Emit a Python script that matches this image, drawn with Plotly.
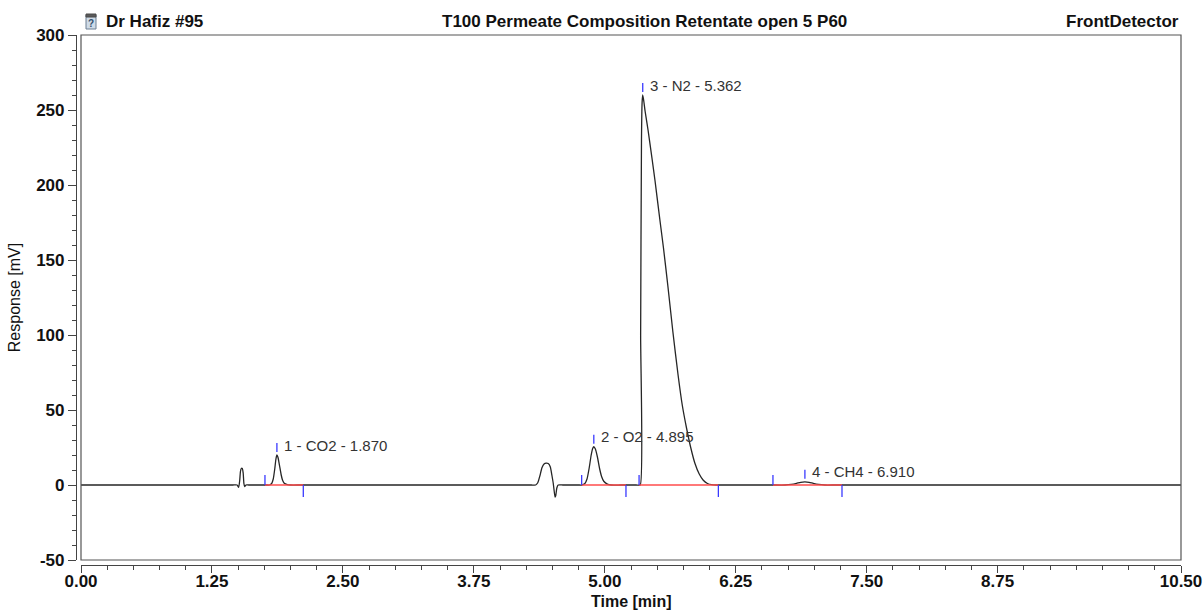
import plotly.graph_objects as go

# ---- chromatogram trace: time [min] and detector response [mV] ----
baseline_t = [0.00, 0.80, 1.30, 1.45, 1.49]
spike_t = [1.505, 1.515, 1.522, 1.530, 1.540, 1.548, 1.555, 1.562, 1.575, 1.60, 1.70, 1.77]
spike_v = [-1.5, 3.0, 9.0, 11.0, 11.0, 8.0, 1.0, -1.0, 0.0, 0.0, 0.0, 0.0]

co2_t = [1.80, 1.82, 1.835, 1.85, 1.86, 1.87, 1.88, 1.895, 1.91, 1.925, 1.94, 1.97, 2.00,
         2.10, 3.00, 4.20, 4.30]
co2_v = [0.0, 1.0, 4.0, 11.0, 17.0, 20.0, 18.5, 13.0, 7.0, 3.0, 1.2, 0.3, 0.0,
         0.0, 0.0, 0.0, 0.0]

valve_t = [4.34, 4.36, 4.38, 4.40, 4.42, 4.44, 4.46, 4.48, 4.495, 4.508, 4.515, 4.525,
           4.532, 4.542, 4.555, 4.60, 4.70, 4.75]
valve_v = [0.0, 1.5, 6.0, 11.5, 14.0, 14.6, 14.3, 12.0, 6.5, 1.0, -3.0, -8.0,
           -7.0, -2.0, 0.0, 0.0, 0.0, 0.0]

o2_t = [4.78, 4.81, 4.83, 4.85, 4.87, 4.885, 4.895, 4.91, 4.93, 4.95, 4.97, 4.99, 5.02,
        5.06, 5.15, 5.25]
o2_v = [0.0, 1.0, 4.0, 11.0, 20.0, 24.5, 25.5, 24.0, 18.5, 11.0, 5.5, 2.5, 0.8,
        0.0, 0.0, 0.0]

n2_t = [5.30, 5.338, 5.342, 5.350, 5.356, 5.362, 5.372, 5.385, 5.412, 5.45, 5.479, 5.527,
        5.56, 5.603, 5.65, 5.70, 5.74, 5.78, 5.82, 5.86, 5.90, 5.94, 5.98, 6.02, 6.06,
        6.10, 6.30, 6.60]
n2_v = [0.0, 0.0, 100.0, 230.0, 255.0, 260.0, 256.0, 249.0, 237.0, 218.0, 203.0, 176.0,
        158.0, 132.0, 102.0, 73.0, 53.0, 38.0, 25.0, 14.5, 7.5, 3.2, 1.0, 0.2, 0.0,
        0.0, 0.0, 0.0]

ch4_t = [6.72, 6.78, 6.83, 6.87, 6.91, 6.95, 6.99, 7.04, 7.10, 7.20, 7.50, 8.50, 9.50]
ch4_v = [0.0, 0.4, 1.1, 1.8, 2.1, 1.8, 1.1, 0.4, 0.0, 0.0, 0.0, 0.0, 0.0]

end_t = [10.50]

# ---- integration results ----
peak_names = ["1 - CO2 - 1.870", "2 - O2 - 4.895", "3 - N2 - 5.362", "4 - CH4 - 6.910"]
peak_rt = [1.870, 4.895, 5.362, 6.910]
peak_height = [20.0, 25.5, 260.0, 2.1]
peak_start = [1.756, 4.779, 5.327, 6.605]
peak_end = [2.122, 5.202, 6.084, 7.264]

# ---- axis ticks ----
x_major = [0.00, 1.25, 2.50, 3.75, 5.00, 6.25, 7.50, 8.75, 10.50]
x_major_text = ["0.00", "1.25", "2.50", "3.75", "5.00", "6.25", "7.50", "8.75", "10.50"]
y_major = [-50, 0, 50, 100, 150, 200, 250, 300]

time = baseline_t + spike_t + co2_t + valve_t + o2_t + n2_t + ch4_t + end_t
resp = [0.0] * len(baseline_t) + spike_v + co2_v + valve_v + o2_v + n2_v + ch4_v + [0.0]

# page geometry (pixels)
W, H = 1204, 610
L, R, T, B = 76, 23, 35, 45
PW, PH = W - L - R, H - T - B


def px(x):
    return (x - L) / PW


def py(y):
    return (H - B - y) / PH


fig = go.Figure()

fig.add_trace(go.Scatter(
    x=time, y=resp, mode="lines",
    line=dict(color="#262626", width=1.3, shape="spline", smoothing=0.5),
    hoverinfo="skip", showlegend=False))

# integration baselines (red)
bx, by = [], []
for s, e in zip(peak_start, peak_end):
    bx += [s, e, None]
    by += [0, 0, None]
fig.add_trace(go.Scatter(x=bx, y=by, mode="lines",
                         line=dict(color="#ff4d4d", width=1.3),
                         hoverinfo="skip", showlegend=False))

# peak start / end / apex delimiters (blue)
START_LEN, END_LEN, APEX_GAP, APEX_LEN = 6.7, 8.0, 2.0, 6.0
mx, my = [], []
for s, e, rt, h in zip(peak_start, peak_end, peak_rt, peak_height):
    mx += [s, s, None, e, e, None, rt, rt, None]
    my += [0, START_LEN, None, 0, -END_LEN, None,
           h + APEX_GAP, h + APEX_GAP + APEX_LEN, None]
fig.add_trace(go.Scatter(x=mx, y=my, mode="lines",
                         line=dict(color="#3a3aff", width=1.3),
                         hoverinfo="skip", showlegend=False))

annotations = []
for name, rt, h in zip(peak_names, peak_rt, peak_height):
    annotations.append(dict(
        x=rt, y=h, xref="x", yref="y", text=name, showarrow=False,
        xanchor="left", yanchor="middle", xshift=5, yshift=10,
        font=dict(family="Liberation Sans, Arial", size=15, color="#333333")))

title_font = dict(family="Liberation Sans, Arial", size=17, color="#111111")
annotations += [
    dict(x=px(104), y=py(22), xref="paper", yref="paper", text="<b>Dr Hafiz #95</b>",
         showarrow=False, xanchor="left", yanchor="middle", font=title_font),
    dict(x=px(644), y=py(22), xref="paper", yref="paper",
         text="<b>T100 Permeate Composition Retentate open 5 P60</b>",
         showarrow=False, xanchor="center", yanchor="middle", font=title_font),
    dict(x=px(1181), y=py(22), xref="paper", yref="paper", text="<b>FrontDetector</b>",
         showarrow=False, xanchor="right", yanchor="middle", font=title_font),
    dict(x=px(91), y=py(23), xref="paper", yref="paper", text="<b>?</b>",
         showarrow=False, xanchor="center", yanchor="middle",
         font=dict(family="Liberation Sans, Arial", size=10, color="#34506e")),
    # x-axis title
    dict(x=px(631), y=py(601), xref="paper", yref="paper", text="<b>Time [min]</b>",
         showarrow=False, xanchor="center", yanchor="middle",
         font=dict(family="Liberation Sans, Arial", size=16, color="#111111")),
]

shapes = [
    # plot frame
    dict(type="rect", xref="x domain", yref="y domain", x0=0, x1=1, y0=0, y1=1,
         line=dict(color="#555555", width=1.2), layer="above"),
    # small document icon beside the sample name
    dict(type="rect", xref="paper", yref="paper", x0=px(86), x1=px(96), y0=py(29), y1=py(15),
         line=dict(color="#6d7f92", width=1), fillcolor="#cfdbe7", layer="above"),
    dict(type="rect", xref="paper", yref="paper", x0=px(86), x1=px(96), y0=py(17), y1=py(14),
         line=dict(color="#4a4a4a", width=1), fillcolor="#5a5a5a", layer="above"),
]

tick_font = dict(family="Liberation Sans, Arial", size=17, color="#111111")

fig.update_layout(
    width=W, height=H,
    margin=dict(l=L, r=R, t=T, b=B, autoexpand=False),
    paper_bgcolor="white", plot_bgcolor="white",
    showlegend=False,
    annotations=annotations,
    shapes=shapes,
    xaxis=dict(
        range=[0, 10.5], domain=[5 / PW, 1], anchor="free", position=0,
        automargin=False,
        showgrid=False, zeroline=False,
        showline=True, linecolor="#444444", linewidth=1.2,
        tickmode="array", tickvals=x_major,
        ticktext=["<b>%s</b>" % t for t in x_major_text],
        ticks="outside", ticklen=7, tickwidth=1.2, tickcolor="#444444",
        ticklabelstandoff=-7,
        minor=dict(tickmode="linear", tick0=0, dtick=0.25, ticks="outside",
                   ticklen=4, tickwidth=1, tickcolor="#444444", showgrid=False),
        tickfont=tick_font,
    ),
    yaxis=dict(
        range=[-50, 300], domain=[5 / PH, 1], anchor="free", position=0,
        automargin=False,
        showgrid=False, zeroline=False,
        showline=True, linecolor="#444444", linewidth=1.2,
        tickmode="array", tickvals=y_major,
        ticktext=["<b>%d</b>" % v for v in y_major],
        ticks="outside", ticklen=8, tickwidth=1.2, tickcolor="#444444",
        minor=dict(tickmode="linear", tick0=0, dtick=10, ticks="outside",
                   ticklen=4, tickwidth=1, tickcolor="#444444", showgrid=False),
        tickfont=tick_font,
        title=dict(text="Response [mV]", standoff=10,
                   font=dict(family="Liberation Sans, Arial", size=16, color="#111111")),
    ),
)

fig.write_html("out.html")
